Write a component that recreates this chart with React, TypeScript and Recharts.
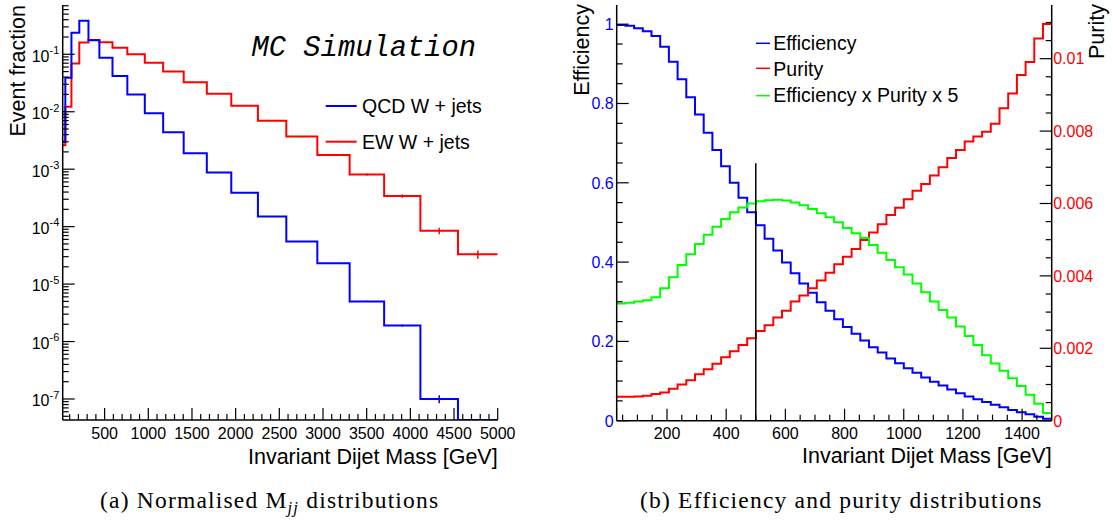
import React from "react";
import { ComposedChart, Line, Scatter, ErrorBar, XAxis, YAxis, ReferenceLine } from "recharts";

const SANS = "'Liberation Sans', Arial, Helvetica, sans-serif";
const SERIF = "'Liberation Serif', 'Times New Roman', serif";
const MONO = "'Liberation Mono', 'Courier New', monospace";
const BLUE = "#0000ff";
const RED = "#ff0000";
const GREEN = "#00ff00";

// (a) normalised Mjj distributions, variable-width bins [GeV]
const mjjEdges = [20, 50, 120, 210, 315, 440, 590, 760, 960, 1170, 1405, 1670, 1950, 2255, 2580, 2935, 3305, 3700, 4115, 4545, 5000];
const qcdFraction = [0.003, 0.039, 0.238, 0.385, 0.175, 0.087, 0.042, 0.02, 0.0094, 0.0044, 0.0019, 0.00088, 0.00039, 0.00015, 5.5e-5, 2.3e-5, 5.0e-6, 1.9e-6, 1.0e-7, 0];
const ewFraction = [0.0026, 0.0122, 0.069, 0.16, 0.178, 0.162, 0.13, 0.1, 0.071, 0.05, 0.0325, 0.0206, 0.0127, 0.007, 0.0037, 0.00176, 0.00081, 0.00034, 8.5e-5, 3.3e-5];
const qcdError = [0, 0, 0, 0, 0, 0, 0, 0, 0, 0, 0, 0, 0, 0, 0, 0, 1.4e-7, 7.6e-8, 1.6e-8, 0];
const ewError = [0, 0, 0, 0, 0, 0, 0, 0, 0, 0, 0, 0, 0, 0, 1e-4, 5e-5, 3.2e-5, 2.3e-5, 1.1e-5, 5.3e-6];

const mjjMajorTicks = [500, 1000, 1500, 2000, 2500, 3000, 3500, 4000, 4500, 5000];
const decadeTicks = [1e-7, 1e-6, 1e-5, 1e-4, 1e-3, 1e-2, 1e-1];
const LOG_MIN = 4.31e-8;
const LOG_MAX = 0.721;

// (b) efficiency and purity vs Mjj cut, 50 bins between 30 and 1500 GeV
const cutLow = 30;
const cutHigh = 1500;
const cutBins = 50;
const efficiency = [
  0.998, 0.996, 0.99, 0.982, 0.97, 0.943, 0.905, 0.861, 0.816, 0.772,
  0.726, 0.683, 0.642, 0.6, 0.562, 0.526, 0.493, 0.459, 0.429, 0.399,
  0.372, 0.346, 0.323, 0.299, 0.277, 0.256, 0.236, 0.219, 0.202, 0.185,
  0.172, 0.157, 0.145, 0.132, 0.121, 0.109, 0.098, 0.089, 0.079, 0.069,
  0.061, 0.054, 0.047, 0.04, 0.034, 0.027, 0.021, 0.016, 0.01, 0.005,
];
const purity = [
  0.00066, 0.00066, 0.00067, 0.00069, 0.00074, 0.00078, 0.00088, 0.001, 0.00112, 0.00128,
  0.00142, 0.00157, 0.00175, 0.00192, 0.00209, 0.00228, 0.00248, 0.00264, 0.00285, 0.00304,
  0.00329, 0.00346, 0.00366, 0.00387, 0.00409, 0.00432, 0.00453, 0.00474, 0.00499, 0.0052,
  0.00543, 0.00568, 0.00588, 0.00612, 0.00635, 0.00654, 0.00677, 0.007, 0.00726, 0.00748,
  0.00771, 0.00785, 0.00798, 0.0082, 0.00863, 0.00904, 0.00955, 0.00991, 0.01056, 0.01096,
];
const effTimesPurity5 = [
  0.00324, 0.00326, 0.00329, 0.00333, 0.00341, 0.00366, 0.00396, 0.0043, 0.0046, 0.00488,
  0.00514, 0.00536, 0.00557, 0.00576, 0.00589, 0.006, 0.00606, 0.00609, 0.0061, 0.00608,
  0.00603, 0.00595, 0.00585, 0.00573, 0.00562, 0.00548, 0.00532, 0.00518, 0.00505, 0.00485,
  0.00464, 0.00444, 0.00424, 0.00404, 0.00379, 0.00355, 0.00329, 0.00306, 0.00285, 0.0026,
  0.00234, 0.00209, 0.00181, 0.00158, 0.00138, 0.00117, 0.00096, 0.00072, 0.00047, 0.00021,
];
const cutMajorTicks = [200, 400, 600, 800, 1000, 1200, 1400];
const effMajorTicks = [0, 0.2, 0.4, 0.6, 0.8, 1];
const purityMajorTicks = [0, 0.002, 0.004, 0.006, 0.008, 0.01];
const chosenCut = 500;
const cutLineTop = 0.649;
const EFF_MAX = 1.0484;
const PUR_MAX = 0.011483;

// ---- helpers ----
const steps = (edges: number[], values: number[], floor = -Infinity) =>
  edges.map((x, i) => ({ x, y: Math.max(values[Math.min(i, values.length - 1)], floor) }));

const errorPoints = (values: number[], errs: number[]) =>
  values
    .map((y, i) => ({ x: (mjjEdges[i] + mjjEdges[i + 1]) / 2, y, err: errs[i] }))
    .filter((d) => d.err > 0);

const range = (from: number, to: number, step: number) => {
  const out: number[] = [];
  for (let i = 0; from + i * step <= to + 1e-9; i++) out.push(+(from + i * step).toFixed(6));
  return out;
};
const isMajorOf = (list: number[]) => (v: number) => list.some((m) => Math.abs(m - v) < 1e-9);
const isDecade = (v: number) => Math.abs(Math.log10(v) - Math.round(Math.log10(v))) < 1e-6;

const logMinorTicks: number[] = [];
for (let n = -8; n <= -1; n++) {
  for (let m = 2; m <= 9; m++) {
    const v = m * Math.pow(10, n);
    if (v > LOG_MIN && v < LOG_MAX) logMinorTicks.push(v);
  }
}

const cutEdges = Array.from({ length: cutBins + 1 }, (_, k) => cutLow + (k * (cutHigh - cutLow)) / cutBins);

const qcdSteps = steps(mjjEdges, qcdFraction, LOG_MIN);
const ewSteps = steps(mjjEdges, ewFraction, LOG_MIN);
const qcdErrPts = errorPoints(qcdFraction, qcdError);
const ewErrPts = errorPoints(ewFraction, ewError);
const effSteps = steps(cutEdges, efficiency);
const purSteps = steps(cutEdges, purity);
const prodSteps = steps(cutEdges, effTimesPurity5);

const MAJ = 12;
const MIN = 6;
const TICK_W = 1.2;

// ticks drawn inward, ROOT style
const bottomTick = (major: (v: number) => boolean) => (p: any) => {
  const v = p.payload.value;
  const M = major(v);
  return (
    <g>
      <line x1={p.x} x2={p.x} y1={p.y} y2={p.y - (M ? MAJ : MIN)} stroke="#000" strokeWidth={TICK_W} />
      {M && (
        <text x={p.x} y={p.y + 18.5} textAnchor="middle" fontSize={16} fontFamily={SANS} fill="#000">
          {String(v)}
        </text>
      )}
    </g>
  );
};

const topTick = (major: (v: number) => boolean) => (p: any) => {
  const M = major(p.payload.value);
  return <line x1={p.x} x2={p.x} y1={p.y} y2={p.y + (M ? MAJ : MIN)} stroke="#000" strokeWidth={TICK_W} />;
};

const leftTick = (major: (v: number) => boolean, color: string) => (p: any) => {
  const v = p.payload.value;
  const M = major(v);
  return (
    <g>
      <line x1={p.x} x2={p.x + (M ? MAJ : MIN)} y1={p.y} y2={p.y} stroke="#000" strokeWidth={TICK_W} />
      {M && (
        <text x={p.x - 3} y={p.y + 5.8} textAnchor="end" fontSize={16} fontFamily={SANS} fill={color}>
          {String(v)}
        </text>
      )}
    </g>
  );
};

const rightTick = (major: (v: number) => boolean, color: string) => (p: any) => {
  const v = p.payload.value;
  const M = major(v);
  return (
    <g>
      <line x1={p.x} x2={p.x - (M ? MAJ : MIN)} y1={p.y} y2={p.y} stroke="#000" strokeWidth={TICK_W} />
      {M && (
        <text x={p.x + 1.5} y={p.y + 5.8} textAnchor="start" fontSize={16} fontFamily={SANS} fill={color}>
          {String(v)}
        </text>
      )}
    </g>
  );
};

const logLeftTick = (p: any) => {
  const v = p.payload.value;
  const M = isDecade(v);
  return (
    <g>
      <line x1={p.x} x2={p.x + (M ? MAJ : MIN)} y1={p.y} y2={p.y} stroke="#000" strokeWidth={TICK_W} />
      {M && (
        <text x={p.x - 31} y={p.y + 7.4} fontSize={16} fontFamily={SANS} fill="#000">
          10
          <tspan dy={-7.6} fontSize={11}>
            {String(Math.round(Math.log10(v)))}
          </tspan>
        </text>
      )}
    </g>
  );
};

const logRightTick = (p: any) => {
  const M = isDecade(p.payload.value);
  return <line x1={p.x} x2={p.x - (M ? MAJ : MIN)} y1={p.y} y2={p.y} stroke="#000" strokeWidth={TICK_W} />;
};

const frame = { stroke: "#000", strokeWidth: 1.5 };

const mjjTicks = range(100, 5000, 100);
const logTicks = [...decadeTicks, ...logMinorTicks].sort((a, b) => a - b);
const cutTicks = range(50, 1450, 50);
const effTicks = range(0, 1.0, 0.05);
const purTicks = range(0, 0.011, 0.0005);

function MjjPanel() {
  return (
    <ComposedChart width={540} height={480} margin={{ top: 5, right: 42.3, bottom: 0, left: 0 }}>
      <XAxis
        xAxisId="b"
        dataKey="x"
        type="number"
        domain={[20, 5000]}
        allowDataOverflow
        ticks={mjjTicks}
        interval={0}
        tickSize={0}
        tickMargin={0}
        height={60}
        axisLine={frame}
        tickLine={false}
        tick={bottomTick(isMajorOf(mjjMajorTicks))}
      />
      <XAxis
        xAxisId="t"
        orientation="top"
        dataKey="x"
        type="number"
        domain={[20, 5000]}
        allowDataOverflow
        ticks={mjjTicks}
        interval={0}
        tickSize={0}
        tickMargin={0}
        height={0}
        axisLine={frame}
        tickLine={false}
        tick={topTick(isMajorOf(mjjMajorTicks))}
      />
      <YAxis
        yAxisId="log"
        scale="log"
        type="number"
        domain={[LOG_MIN, LOG_MAX]}
        allowDataOverflow
        ticks={logTicks}
        interval={0}
        tickSize={0}
        tickMargin={0}
        width={62.7}
        axisLine={frame}
        tickLine={false}
        tick={logLeftTick}
      />
      <YAxis
        yAxisId="logR"
        orientation="right"
        scale="log"
        type="number"
        domain={[LOG_MIN, LOG_MAX]}
        allowDataOverflow
        ticks={logTicks}
        interval={0}
        tickSize={0}
        tickMargin={0}
        width={0}
        axisLine={frame}
        tickLine={false}
        tick={logRightTick}
      />
      <Line xAxisId="b" yAxisId="log" data={ewSteps} dataKey="y" type="stepAfter" stroke={RED} strokeWidth={2} dot={false} isAnimationActive={false} />
      <Line xAxisId="b" yAxisId="log" data={qcdSteps} dataKey="y" type="stepAfter" stroke={BLUE} strokeWidth={2} dot={false} isAnimationActive={false} />
      <Scatter xAxisId="b" yAxisId="log" data={ewErrPts} dataKey="y" shape={() => <g />} isAnimationActive={false}>
        <ErrorBar dataKey="err" direction="y" width={0} stroke={RED} strokeWidth={1.5} />
      </Scatter>
      <Scatter xAxisId="b" yAxisId="log" data={qcdErrPts} dataKey="y" shape={() => <g />} isAnimationActive={false}>
        <ErrorBar dataKey="err" direction="y" width={0} stroke={BLUE} strokeWidth={1.5} />
      </Scatter>
    </ComposedChart>
  );
}

function CutPanel() {
  return (
    <ComposedChart width={553} height={480} margin={{ top: 5, right: 0, bottom: 0, left: 0 }}>
      <XAxis
        xAxisId="b"
        dataKey="x"
        type="number"
        domain={[cutLow, cutHigh]}
        allowDataOverflow
        ticks={cutTicks}
        interval={0}
        tickSize={0}
        tickMargin={0}
        height={59.3}
        axisLine={frame}
        tickLine={false}
        tick={bottomTick(isMajorOf(cutMajorTicks))}
      />
      <XAxis
        xAxisId="t"
        orientation="top"
        dataKey="x"
        type="number"
        domain={[cutLow, cutHigh]}
        height={0}
        axisLine={frame}
        tickLine={false}
        tick={false}
      />
      <YAxis
        yAxisId="eff"
        type="number"
        domain={[0, EFF_MAX]}
        allowDataOverflow
        ticks={effTicks}
        interval={0}
        tickSize={0}
        tickMargin={0}
        width={56.7}
        axisLine={frame}
        tickLine={false}
        tick={leftTick(isMajorOf(effMajorTicks), BLUE)}
      />
      <YAxis
        yAxisId="pur"
        orientation="right"
        type="number"
        domain={[0, PUR_MAX]}
        allowDataOverflow
        ticks={purTicks}
        interval={0}
        tickSize={0}
        tickMargin={0}
        width={61.3}
        axisLine={frame}
        tickLine={false}
        tick={rightTick(isMajorOf(purityMajorTicks), RED)}
      />
      <Line xAxisId="b" yAxisId="eff" data={effSteps} dataKey="y" type="stepAfter" stroke={BLUE} strokeWidth={2} dot={false} isAnimationActive={false} />
      <Line xAxisId="b" yAxisId="pur" data={purSteps} dataKey="y" type="stepAfter" stroke={RED} strokeWidth={2} dot={false} isAnimationActive={false} />
      <Line xAxisId="b" yAxisId="pur" data={prodSteps} dataKey="y" type="stepAfter" stroke={GREEN} strokeWidth={2} dot={false} isAnimationActive={false} />
      <ReferenceLine
        xAxisId="b"
        yAxisId="eff"
        segment={[
          { x: chosenCut, y: 0 },
          { x: chosenCut, y: cutLineTop },
        ]}
        stroke="#000"
        strokeWidth={1.5}
      />
    </ComposedChart>
  );
}

const legendText = { fontFamily: SANS, fontSize: 19.5, fill: "#000" };
const titleText = { fontFamily: SANS, fontSize: 21.5, fill: "#000" };
const captionText = { fontFamily: SERIF, fontSize: 23.5, fill: "#000", letterSpacing: 1.2 };

export default function App() {
  return (
    <div style={{ position: "absolute", left: 0, top: 0, width: 1113, height: 522, background: "#fff" }}>
      <div style={{ position: "absolute", left: 0, top: 0 }}>
        <MjjPanel />
      </div>
      <div style={{ position: "absolute", left: 560, top: 0 }}>
        <CutPanel />
      </div>
      <svg width={1113} height={522} style={{ position: "absolute", left: 0, top: 0, pointerEvents: "none" }}>
        {/* panel (a) */}
        <text {...titleText} transform="translate(25.4,5) rotate(-90)" textAnchor="end">
          Event fraction
        </text>
        <text {...titleText} x={497.7} y={464} textAnchor="end">
          Invariant Dijet Mass [GeV]
        </text>
        <text x={251.5} y={56} fontFamily={MONO} fontStyle="italic" fontSize={28.8} fill="#000">
          MC Simulation
        </text>
        <line x1={325.7} x2={356.7} y1={106} y2={106} stroke={BLUE} strokeWidth={2} />
        <text {...legendText} x={362} y={112.5}>
          QCD W + jets
        </text>
        <line x1={325.7} x2={356.7} y1={141.7} y2={141.7} stroke={RED} strokeWidth={2} />
        <text {...legendText} x={362} y={148.5}>
          EW W + jets
        </text>

        {/* panel (b) */}
        <text {...titleText} transform="translate(588.7,4) rotate(-90)" textAnchor="end">
          Efficiency
        </text>
        <text {...titleText} transform="translate(1104,4) rotate(-90)" textAnchor="end">
          Purity
        </text>
        <text {...titleText} x={1051.7} y={463} textAnchor="end">
          Invariant Dijet Mass [GeV]
        </text>
        <line x1={756} x2={770} y1={43.3} y2={43.3} stroke={BLUE} strokeWidth={1.5} />
        <text {...legendText} x={773.3} y={49.5}>
          Efficiency
        </text>
        <line x1={756} x2={770} y1={68.3} y2={68.3} stroke={RED} strokeWidth={1.5} />
        <text {...legendText} x={773.3} y={76}>
          Purity
        </text>
        <line x1={756} x2={770} y1={95.7} y2={95.7} stroke={GREEN} strokeWidth={1.5} />
        <text {...legendText} x={773.3} y={102}>
          Efficiency x Purity x 5
        </text>

        {/* captions */}
        <text {...captionText} x={100} y={508}>
          (a) Normalised M
          <tspan dy={5} fontSize={16.5} fontStyle="italic">
            jj
          </tspan>
          <tspan dy={-5}> distributions</tspan>
        </text>
        <text {...captionText} x={640} y={508}>
          (b) Efficiency and purity distributions
        </text>
      </svg>
    </div>
  );
}
